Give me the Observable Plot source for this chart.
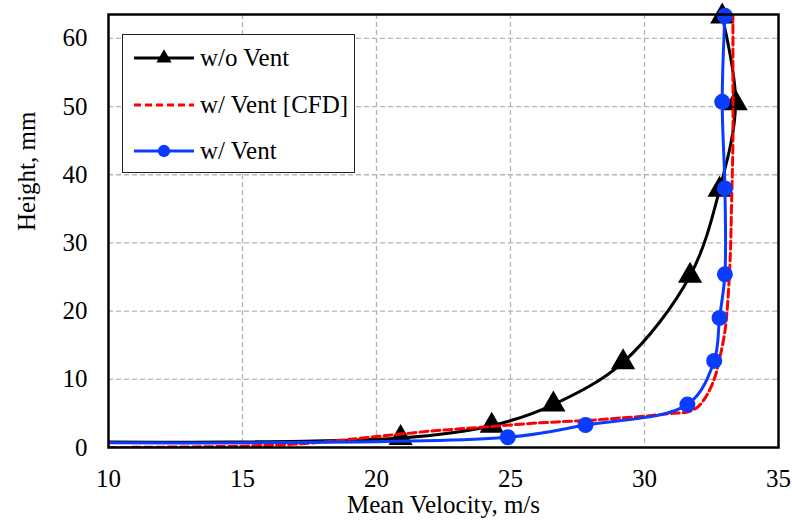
<!DOCTYPE html>
<html>
<head>
<meta charset="utf-8">
<script src="https://cdn.jsdelivr.net/npm/d3@7"></script>
<script src="https://cdn.jsdelivr.net/npm/@observablehq/plot@0.6"></script>
<style>
  html, body { margin: 0; padding: 0; background: #fff; }
  #wrap { position: relative; width: 792px; height: 527px; font-family: "Liberation Serif", "Times New Roman", serif; }
  #legend { position: absolute; left: 122px; top: 34px; width: 231px; height: 137px; border: 1.5px solid #222; background: #fff; }
  .row { position: absolute; left: 10px; height: 30px; display: flex; align-items: center; font-size: 25px; color: #000; }
  .row svg { margin-right: 5px; }
</style>
</head>
<body>
<div id="wrap"></div>
<script>
// Series: w/o Vent (black, triangles) — first point is where the curve enters at the left axis
const woVentVel = [10, 20.9, 24.3, 26.6, 29.2, 31.7, 32.8, 33.4, 32.9];
const woVentH   = [0.8, 1.4, 3.2, 6.3, 12.5, 25.2, 37.8, 50.5, 63.2];
// Series: w/ Vent (blue, circles)
const ventVel = [10, 24.9, 27.8, 31.6, 32.6, 32.8, 33.0, 33.0, 32.9, 33.0];
const ventH   = [0.7, 1.5, 3.3, 6.3, 12.7, 19.0, 25.4, 38.0, 50.7, 63.3];
// Series: w/ Vent [CFD] (red dashed)
const cfdVel = [10, 12, 15, 17, 18, 19, 20, 21, 22, 23, 24, 25, 26, 27, 28, 29, 30, 31, 31.6, 32.0, 32.3, 32.6, 32.8, 33.0, 33.1, 33.2, 33.25, 33.3, 33.3, 33.3];
const cfdH   = [0.0, 0.05, 0.2, 0.5, 0.8, 1.2, 1.6, 2.0, 2.4, 2.7, 3.0, 3.3, 3.6, 3.8, 4.0, 4.3, 4.6, 5.0, 5.2, 6.0, 7.5, 10, 13, 17, 21, 28, 36, 45, 55, 63.5];

const seriesNames = ["w/o Vent", "w/ Vent [CFD]", "w/ Vent"];
const xTicks = [10, 15, 20, 25, 30, 35];
const yTicks = [0, 10, 20, 30, 40, 50, 60];
const xLabel = "Mean Velocity, m/s";
const yLabel = "Height, mm";

const toRows = (xs, ys) => xs.map((v, i) => ({v, h: ys[i]}));
const woVent = toRows(woVentVel, woVentH);
const vent = toRows(ventVel, ventH);
const cfd = toRows(cfdVel, cfdH);

const black = "#000000", red = "#ff0000", blue = "#0a3cff";
const serif = "'Liberation Serif', 'Times New Roman', serif";

const chart = Plot.plot({
  width: 792,
  height: 527,
  marginLeft: 108,
  marginRight: 14,
  marginTop: 14,
  marginBottom: 80,
  style: {fontFamily: serif, fontSize: "25px", background: "#fff", color: "#000"},
  x: {domain: [10, 35]},
  y: {domain: [0, 63.5]},
  marks: [
    Plot.gridX(xTicks.slice(1, -1), {stroke: "#b4b4b4", strokeOpacity: 1, strokeWidth: 1.3, strokeDasharray: "5,3"}),
    Plot.gridY(yTicks.slice(1), {stroke: "#b4b4b4", strokeOpacity: 1, strokeWidth: 1.3, strokeDasharray: "5,3"}),
    Plot.axisX(xTicks, {tickSize: 0, tickPadding: 22, label: null, fontSize: 25, fontFamily: serif}),
    Plot.axisY(yTicks, {tickSize: 0, tickPadding: 21, label: null, fontSize: 25, fontFamily: serif}),
    Plot.text([xLabel], {text: d => d, frameAnchor: "bottom", dy: 65, fontSize: 25, fontFamily: serif, fill: "#000"}),
    Plot.text([yLabel], {text: d => d, frameAnchor: "left", dx: -82, rotate: -90, fontSize: 25, fontFamily: serif, fill: "#000"}),
    Plot.line(woVent, {x: "v", y: "h", stroke: black, strokeWidth: 3, curve: "catmull-rom", clip: true}),
    Plot.dot(woVent.slice(1), {x: "v", y: "h", symbol: "triangle", r: 9, fill: black}),
    Plot.line(cfd, {x: "v", y: "h", stroke: red, strokeWidth: 3, strokeDasharray: "8,4", curve: "catmull-rom", clip: true}),
    Plot.line(vent, {x: "v", y: "h", stroke: blue, strokeWidth: 3, curve: "catmull-rom", clip: true}),
    Plot.dot(vent.slice(1), {x: "v", y: "h", r: 8, fill: blue}),
    Plot.frame({stroke: "#000", strokeWidth: 2.5})
  ]
});

const wrap = document.getElementById("wrap");
wrap.appendChild(chart);

// Legend overlay (inside the plot frame, top-left, as in the reference)
const legend = document.createElement("div");
legend.id = "legend";
const samples = [
  {name: seriesNames[0], color: black, dash: null, symbol: d3.symbolTriangle},
  {name: seriesNames[1], color: red, dash: "7,4", symbol: null},
  {name: seriesNames[2], color: blue, dash: null, symbol: d3.symbolCircle}
];
samples.forEach((s, i) => {
  const row = document.createElement("div");
  row.className = "row";
  row.style.top = (8 + i * 46.5) + "px";
  const svg = d3.create("svg").attr("width", 62).attr("height", 30);
  svg.append("line").attr("x1", 1).attr("x2", 61).attr("y1", 15).attr("y2", 15)
    .attr("stroke", s.color).attr("stroke-width", 3).attr("stroke-dasharray", s.dash);
  if (s.symbol) {
    svg.append("path").attr("transform", "translate(31,15)")
      .attr("d", d3.symbol(s.symbol, s.symbol === d3.symbolTriangle ? 100 : 120)()).attr("fill", s.color);
  }
  row.appendChild(svg.node());
  const span = document.createElement("span");
  span.textContent = s.name;
  row.appendChild(span);
  legend.appendChild(row);
});
wrap.appendChild(legend);
</script>
</body>
</html>
